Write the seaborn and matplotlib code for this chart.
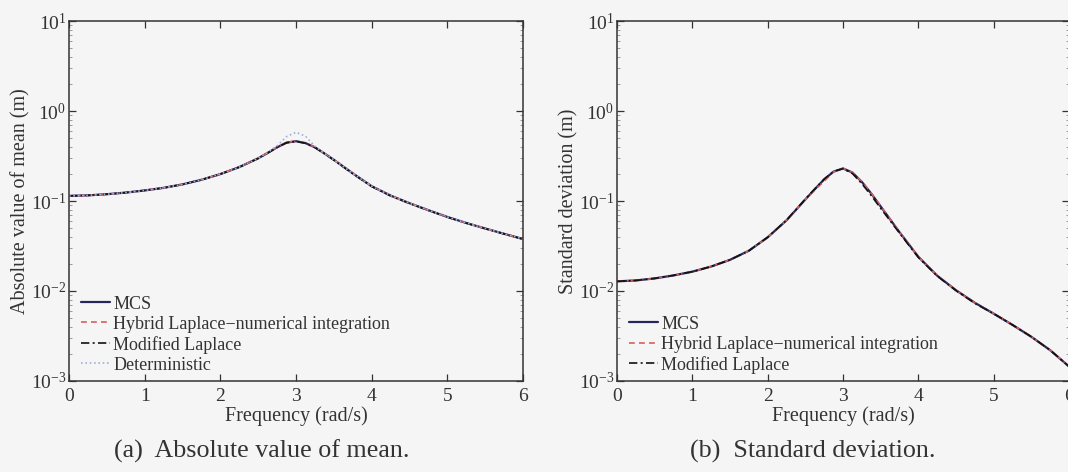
import matplotlib
matplotlib.use("Agg")
import matplotlib.pyplot as plt
import numpy as np
import pandas as pd
import seaborn as sns
from matplotlib.ticker import LogLocator, NullFormatter, FixedLocator

# ---- data -------------------------------------------------------------
freq = [0.0, 0.25, 0.5, 0.75, 1.0, 1.25, 1.5, 1.75, 2.0, 2.25, 2.5, 2.625,
        2.75, 2.875, 3.0, 3.125, 3.25, 3.375, 3.5, 3.75, 4.0, 4.25, 4.5,
        4.75, 5.0, 5.25, 5.5, 5.75, 6.0]

# absolute value of the mean response (m)
mean_mcs = [0.114, 0.1155, 0.119, 0.124, 0.131, 0.140, 0.153, 0.172, 0.199,
            0.238, 0.298, 0.342, 0.395, 0.445, 0.462, 0.440, 0.395, 0.338,
            0.287, 0.203, 0.146, 0.115, 0.0945, 0.0790, 0.0665, 0.0570,
            0.0495, 0.0432, 0.0378]
mean_hybrid = [0.114, 0.1155, 0.119, 0.124, 0.131, 0.140, 0.153, 0.172, 0.200,
               0.239, 0.299, 0.344, 0.398, 0.447, 0.463, 0.441, 0.396, 0.339,
               0.288, 0.204, 0.146, 0.115, 0.0945, 0.0790, 0.0665, 0.0570,
               0.0495, 0.0432, 0.0378]
mean_modified = [0.114, 0.1155, 0.119, 0.124, 0.131, 0.140, 0.153, 0.172, 0.199,
                 0.238, 0.297, 0.341, 0.394, 0.444, 0.460, 0.438, 0.393, 0.336,
                 0.285, 0.201, 0.145, 0.114, 0.0940, 0.0787, 0.0663, 0.0568,
                 0.0494, 0.0431, 0.0377]
mean_det = [0.114, 0.1155, 0.119, 0.124, 0.131, 0.140, 0.153, 0.172, 0.199,
            0.238, 0.298, 0.345, 0.410, 0.520, 0.580, 0.525, 0.405, 0.338,
            0.287, 0.203, 0.146, 0.115, 0.0945, 0.0790, 0.0665, 0.0570,
            0.0495, 0.0432, 0.0378]

# standard deviation of the response (m)
std_mcs = [0.0128, 0.0131, 0.0138, 0.0149, 0.0164, 0.0187, 0.0222, 0.0280,
           0.0395, 0.0610, 0.104, 0.135, 0.174, 0.212, 0.230, 0.207, 0.163,
           0.121, 0.087, 0.045, 0.0240, 0.0148, 0.0102, 0.0074, 0.0056,
           0.0042, 0.0031, 0.0022, 0.00145]
std_hybrid = [0.0128, 0.0131, 0.0138, 0.0149, 0.0164, 0.0187, 0.0222, 0.0280,
              0.0395, 0.0610, 0.104, 0.132, 0.166, 0.210, 0.231, 0.208, 0.164,
              0.122, 0.088, 0.045, 0.0240, 0.0148, 0.0102, 0.0074, 0.0056,
              0.0042, 0.0031, 0.0022, 0.00145]
std_modified = [0.0128, 0.0131, 0.0138, 0.0149, 0.0164, 0.0187, 0.0222, 0.0280,
                0.0395, 0.0612, 0.105, 0.136, 0.175, 0.213, 0.229, 0.202, 0.156,
                0.115, 0.083, 0.044, 0.0236, 0.0147, 0.0101, 0.0073, 0.0056,
                0.0042, 0.0031, 0.0022, 0.00145]

x_ticks = [0, 1, 2, 3, 4, 5, 6]
y_ticks = [1e-3, 1e-2, 1e-1, 1e0, 1e1]

# ---- style ------------------------------------------------------------
sns.set_style("ticks")
BG = "#f5f5f5"
INK = "#333333"
plt.rcParams.update({
    "font.family": ["Liberation Serif", "DejaVu Serif"],
    "mathtext.fontset": "custom",
    "mathtext.rm": "Liberation Serif",
    "mathtext.it": "Liberation Serif:italic",
    "mathtext.bf": "Liberation Serif:bold",
    "axes.unicode_minus": True,
    "text.color": INK,
    "axes.labelcolor": INK,
    "xtick.color": INK,
    "ytick.color": INK,
})

C_MCS = "#26265e"
C_HYB = "#d4605c"
C_MOD = "#111111"
C_DET = "#9db0d6"

W, H = 1068, 472
fig = plt.figure(figsize=(W / 100, H / 100), dpi=100, facecolor=BG)


def axes_px(x0, y0, x1, y1):
    ax = fig.add_axes([x0 / W, 1 - y1 / H, (x1 - x0) / W, (y1 - y0) / H])
    ax.set_facecolor(BG)
    return ax


def draw(ax, series, ylabel):
    for vals, label, color, ls, lw in series:
        df = pd.DataFrame({"f": freq, "v": vals})
        sns.lineplot(data=df, x="f", y="v", ax=ax, color=color,
                     linestyle=ls, linewidth=lw, label=label,
                     estimator=None, sort=False)
    ax.set_yscale("log")
    ax.set_xlim(0, 6)
    ax.set_ylim(1e-3, 1e1)
    ax.xaxis.set_major_locator(FixedLocator(x_ticks))
    ax.yaxis.set_major_locator(FixedLocator(y_ticks))
    ax.yaxis.set_minor_locator(LogLocator(base=10, subs=np.arange(2, 10)))
    ax.yaxis.set_minor_formatter(NullFormatter())
    ax.tick_params(which="both", direction="in", top=True, right=True,
                   labelsize=14)
    ax.tick_params(which="major", length=5, width=0.9)
    ax.tick_params(which="minor", length=2.5, width=0.5, color="#777777")
    ax.tick_params(axis="y", which="major", pad=2)
    ax.tick_params(axis="x", which="major", pad=5)
    for s in ax.spines.values():
        s.set_color(INK)
        s.set_linewidth(1.1)
    ax.set_xlabel("Frequency (rad/s)", fontsize=14.5, labelpad=1)
    ax.set_ylabel(ylabel, fontsize=14.5, labelpad=0)
    leg = ax.legend(loc="lower left", frameon=False, fontsize=13,
                    handlelength=1.6, handletextpad=0.2, labelspacing=0.17,
                    borderaxespad=0.1, borderpad=0.3,
                    bbox_to_anchor=(0.01, 0.0))
    return leg


ax1 = axes_px(69, 21, 523, 381)
draw(ax1, [
    (mean_mcs, "MCS", C_MCS, "-", 1.6),
    (mean_hybrid, "Hybrid Laplace\u2212numerical integration", C_HYB, (0, (3.5, 2.5)), 1.2),
    (mean_modified, "Modified Laplace", C_MOD, (0, (5, 2, 1.2, 2)), 1.2),
    (mean_det, "Deterministic", C_DET, (0, (1, 1.6)), 1.2),
], "Absolute value of mean (m)")

ax2 = axes_px(617, 21, 1069, 381)
draw(ax2, [
    (std_mcs, "MCS", C_MCS, "-", 1.6),
    (std_hybrid, "Hybrid Laplace\u2212numerical integration", C_HYB, (0, (3.5, 2.5)), 1.2),
    (std_modified, "Modified Laplace", C_MOD, (0, (5, 2, 1.2, 2)), 1.2),
], "Standard deviation (m)")

fig.text(262 / W, 1 - 451 / H, "(a)  Absolute value of mean.",
         ha="center", va="center", fontsize=18.7)
fig.text(813 / W, 1 - 451 / H, "(b)  Standard deviation.",
         ha="center", va="center", fontsize=18.7)

fig.savefig("out.png", dpi=100, facecolor=BG)
